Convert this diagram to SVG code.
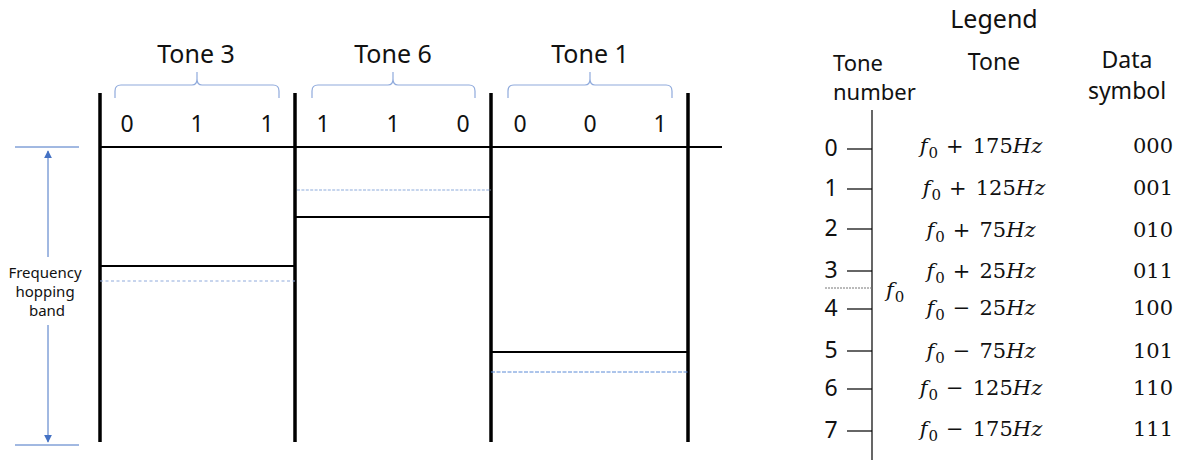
<svg xmlns="http://www.w3.org/2000/svg" width="1183" height="461" viewBox="0 0 1183 461">
  <style>
    .sans { font-family: "Noto Sans", "Open Sans", "Liberation Sans", sans-serif; fill: #111; }
    .math { font-family: "DejaVu Serif", "Liberation Serif", serif; font-size: 21px; fill: #111; }
    .it { font-style: italic; }
    .thick { stroke: #000; stroke-width: 3.5; fill: none; }
    .thin { stroke: #000; stroke-width: 2; fill: none; }
    .dash { stroke: #5b8ad6; stroke-width: 1; stroke-dasharray: 4 1.5; fill: none; }
    .dashsoft { stroke: #8faadc; stroke-width: 1; stroke-dasharray: 3 2.5; fill: none; }
    .dashlight { stroke: #b4c7e7; stroke-width: 1.6; stroke-dasharray: 3 1.4; fill: none; }
    .brace { stroke: #8faadc; stroke-width: 1.2; fill: none; }
    .blue { stroke: #4472c4; stroke-width: 1; fill: none; }
    .tick { stroke: #000; stroke-width: 1.2; fill: none; }
  </style>
  <defs>
    <marker id="ah" viewBox="0 0 10 10" refX="9" refY="5" markerWidth="8" markerHeight="8" orient="auto-start-reverse">
      <path d="M0,0 L10,5 L0,10 z" fill="#4472c4"/>
    </marker>
  </defs>
  <rect width="1183" height="461" fill="#fff"/>

  <!-- hopping band extent -->
  <g id="band">
    <line class="blue" x1="15" y1="147" x2="79" y2="147"/>
    <line class="blue" x1="15" y1="445" x2="79" y2="445"/>
    <line class="blue" x1="48" y1="257" x2="48" y2="151" marker-end="url(#ah)"/>
    <line class="blue" x1="48" y1="325" x2="48" y2="442" marker-end="url(#ah)"/>
    <text class="sans" font-size="15" text-anchor="middle">
      <tspan x="47" y="278">Frequency</tspan>
      <tspan x="47" y="297">hopping</tspan>
      <tspan x="47" y="316">band</tspan>
    </text>
  </g>

  <!-- time/frequency grid -->
  <g id="grid">
    <line class="thin" x1="100" y1="147" x2="722" y2="147"/>
    <line class="thick" x1="100" y1="93" x2="100" y2="442"/>
    <line class="thick" x1="295" y1="93" x2="295" y2="442"/>
    <line class="thick" x1="491" y1="93" x2="491" y2="442"/>
    <line class="thick" x1="688" y1="93" x2="688" y2="442"/>
  </g>

  <!-- symbol slot: Tone 3 -->
  <g id="slot-tone3">
    <path class="brace" d="M115,98 V91 Q115,85 121,85 H192 Q197,85 197,79 V72 M197,79 Q197,85 202,85 H273 Q279,85 279,91 V98"/>
    <text class="sans" font-size="25" x="196" y="63" text-anchor="middle">Tone 3</text>
    <text class="sans" font-size="23" y="132" text-anchor="middle"><tspan x="127">0</tspan><tspan x="197">1</tspan><tspan x="267">1</tspan></text>
    <line class="thin" x1="100" y1="266" x2="295" y2="266"/>
    <line class="dashsoft" x1="100" y1="281" x2="295" y2="281"/>
  </g>

  <!-- symbol slot: Tone 6 -->
  <g id="slot-tone6">
    <path class="brace" d="M312,98 V91 Q312,85 318,85 H388 Q393,85 393,79 V72 M393,79 Q393,85 398,85 H469 Q475,85 475,91 V98"/>
    <text class="sans" font-size="25" x="393" y="63" text-anchor="middle">Tone 6</text>
    <text class="sans" font-size="23" y="132" text-anchor="middle"><tspan x="323">1</tspan><tspan x="393">1</tspan><tspan x="463">0</tspan></text>
    <line class="thin" x1="295" y1="217" x2="491" y2="217"/>
    <line class="dashlight" x1="297" y1="190" x2="491" y2="190"/>
  </g>

  <!-- symbol slot: Tone 1 -->
  <g id="slot-tone1">
    <path class="brace" d="M508,98 V91 Q508,85 514,85 H585 Q590,85 590,79 V72 M590,79 Q590,85 595,85 H666 Q672,85 672,91 V98"/>
    <text class="sans" font-size="25" x="590" y="63" text-anchor="middle">Tone 1</text>
    <text class="sans" font-size="23" y="132" text-anchor="middle"><tspan x="520">0</tspan><tspan x="590">0</tspan><tspan x="660">1</tspan></text>
    <line class="thin" x1="491" y1="352" x2="688" y2="352"/>
    <line class="dash" x1="491" y1="372" x2="688" y2="372"/>
  </g>

  <!-- legend table -->
  <g id="legend">
    <text class="sans" font-size="25" x="994" y="28" text-anchor="middle">Legend</text>
    <text class="sans" font-size="22"><tspan x="833" y="71">Tone</tspan><tspan x="833" y="100">number</tspan></text>
    <text class="sans" font-size="23" x="994" y="70" text-anchor="middle">Tone</text>
    <text class="sans" font-size="23" text-anchor="middle"><tspan x="1127" y="68">Data</tspan><tspan x="1127" y="99">symbol</tspan></text>

    <line class="tick" x1="872" y1="110" x2="872" y2="460"/>
    <line stroke="#777" stroke-width="1" stroke-dasharray="2 1" x1="825" y1="288" x2="872" y2="288"/>
    <text class="math it" x="886" y="297">f<tspan font-style="normal" font-size="15" dy="5" dx="1">0</tspan></text>

    <g class="sans" font-size="23" text-anchor="middle">
      <text x="831" y="156">0</text>
      <text x="831" y="196">1</text>
      <text x="831" y="236">2</text>
      <text x="831" y="278">3</text>
      <text x="831" y="316">4</text>
      <text x="831" y="358">5</text>
      <text x="831" y="396">6</text>
      <text x="831" y="438">7</text>
    </g>
    <g>
      <line class="tick" x1="847" y1="149" x2="872" y2="149"/>
      <line class="tick" x1="847" y1="189" x2="872" y2="189"/>
      <line class="tick" x1="847" y1="229" x2="872" y2="229"/>
      <line class="tick" x1="847" y1="271" x2="872" y2="271"/>
      <line class="tick" x1="847" y1="309" x2="872" y2="309"/>
      <line class="tick" x1="847" y1="351" x2="872" y2="351"/>
      <line class="tick" x1="847" y1="389" x2="872" y2="389"/>
      <line class="tick" x1="847" y1="431" x2="872" y2="431"/>
    </g>

    <g class="math" text-anchor="middle">
      <text x="981" y="153"><tspan class="it">f</tspan><tspan font-size="15" dy="5" dx="1">0</tspan><tspan dy="-5" dx="8">+</tspan><tspan dx="9">175</tspan><tspan class="it">Hz</tspan></text>
      <text x="984" y="195"><tspan class="it">f</tspan><tspan font-size="15" dy="5" dx="1">0</tspan><tspan dy="-5" dx="8">+</tspan><tspan dx="9">125</tspan><tspan class="it">Hz</tspan></text>
      <text x="981" y="237"><tspan class="it">f</tspan><tspan font-size="15" dy="5" dx="1">0</tspan><tspan dy="-5" dx="8">+</tspan><tspan dx="9">75</tspan><tspan class="it">Hz</tspan></text>
      <text x="981" y="278"><tspan class="it">f</tspan><tspan font-size="15" dy="5" dx="1">0</tspan><tspan dy="-5" dx="8">+</tspan><tspan dx="9">25</tspan><tspan class="it">Hz</tspan></text>
      <text x="981" y="315"><tspan class="it">f</tspan><tspan font-size="15" dy="5" dx="1">0</tspan><tspan dy="-5" dx="8">−</tspan><tspan dx="9">25</tspan><tspan class="it">Hz</tspan></text>
      <text x="981" y="358"><tspan class="it">f</tspan><tspan font-size="15" dy="5" dx="1">0</tspan><tspan dy="-5" dx="8">−</tspan><tspan dx="9">75</tspan><tspan class="it">Hz</tspan></text>
      <text x="981" y="395"><tspan class="it">f</tspan><tspan font-size="15" dy="5" dx="1">0</tspan><tspan dy="-5" dx="8">−</tspan><tspan dx="9">125</tspan><tspan class="it">Hz</tspan></text>
      <text x="981" y="436"><tspan class="it">f</tspan><tspan font-size="15" dy="5" dx="1">0</tspan><tspan dy="-5" dx="8">−</tspan><tspan dx="9">175</tspan><tspan class="it">Hz</tspan></text>
    </g>

    <g class="math" text-anchor="end">
      <text x="1173" y="153">000</text>
      <text x="1173" y="195">001</text>
      <text x="1173" y="237">010</text>
      <text x="1173" y="278">011</text>
      <text x="1173" y="315">100</text>
      <text x="1173" y="358">101</text>
      <text x="1173" y="395">110</text>
      <text x="1173" y="436">111</text>
    </g>
  </g>
</svg>
